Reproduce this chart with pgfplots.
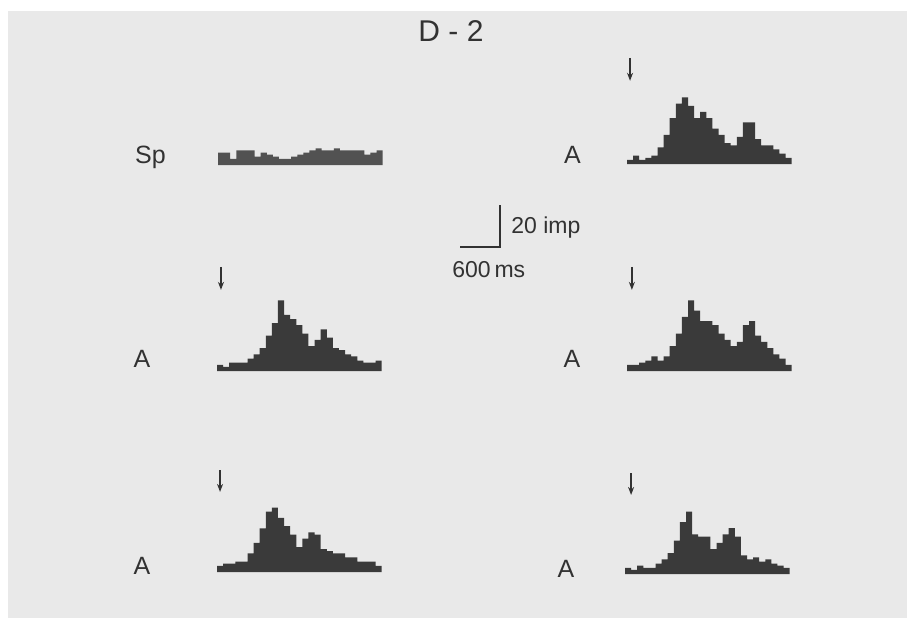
\documentclass[border=0pt]{standalone}
\usepackage{pgfplots}
\pgfplotsset{compat=1.18}
\usepackage{fontspec}
\setmainfont{Liberation Sans}
\usetikzlibrary{arrows.meta}
\definecolor{page}{RGB}{233,233,233}
\definecolor{ink}{RGB}{50,50,50}
\definecolor{bar}{RGB}{58,58,58}
\definecolor{spbar}{RGB}{82,82,82}
\pgfplotsset{
  psth/.style={
    x=0.0305pt, y=1.04pt,
    xmin=0, xmax=2700, ymin=0, ymax=55,
    axis lines=none, clip=false,
    anchor=south west,
  },
}
\tikzset{stim/.style={draw=ink, line width=0.7pt, -{Stealth[length=4pt,width=3pt]}}}
\begin{document}
\begin{tikzpicture}
\fill[white] (0pt,0pt) rectangle (453.5pt,309pt);
\fill[page] (4pt,0pt) rectangle (453.5pt,303.5pt);

% title and labels
\node[ink, font=\fontsize{15}{18}\selectfont] at (225.5pt,293.5pt) {D - 2};
\node[ink, anchor=base, font=\fontsize{12.5}{15}\selectfont] at (75.25pt,227.5pt) {Sp};
\node[ink, anchor=base, font=\fontsize{12.5}{15}\selectfont] at (286.25pt,227.5pt) {A};
\node[ink, anchor=base, font=\fontsize{12.5}{15}\selectfont] at (71pt,125.5pt) {A};
\node[ink, anchor=base, font=\fontsize{12.5}{15}\selectfont] at (286pt,125.5pt) {A};
\node[ink, anchor=base, font=\fontsize{12.5}{15}\selectfont] at (71pt,22pt) {A};
\node[ink, anchor=base, font=\fontsize{12.5}{15}\selectfont] at (283pt,20.5pt) {A};

% scale bar
\draw[ink, line width=0.75pt] (250pt,206.5pt) -- (250pt,185.5pt) -- (230pt,185.5pt);
\node[ink, anchor=base west, inner sep=0pt, font=\fontsize{11.5}{14}\selectfont] at (255.5pt,192.5pt) {20 imp};
\node[ink, anchor=base west, inner sep=0pt, font=\fontsize{11.5}{14}\selectfont] at (226pt,170.5pt) {600\,ms};

% Sp (spontaneous)
\begin{axis}[psth, at={(109pt,226.5pt)}]
\addplot[fill=spbar, draw=none, const plot] table {
x y
0 6
100 6
200 3
300 7
400 7
500 7
600 4
700 6
800 5
900 4
1000 3
1100 3
1200 4
1300 5
1400 6
1500 7
1600 8
1700 7
1800 7
1900 8
2000 7
2100 7
2200 7
2300 7
2400 5
2500 6
2600 7
2700 7
} \closedcycle;
\end{axis}

% top right
\begin{axis}[psth, at={(313.5pt,227pt)}]
\addplot[fill=bar, draw=none, const plot] table {
x y
0 2
100 4
200 2
300 3
400 4
500 8
600 14
700 22
800 29
900 32
1000 28
1100 22
1200 25
1300 22
1400 17
1500 14
1600 10
1700 9
1800 13
1900 20
2000 20
2100 12
2200 9
2300 9
2400 7
2500 5
2600 3
2700 3
} \closedcycle;
\draw[stim] (axis cs:50,51) -- (axis cs:50,40);
\end{axis}

% middle left
\begin{axis}[psth, at={(108.5pt,123.5pt)}]
\addplot[fill=bar, draw=none, const plot] table {
x y
0 3
100 2
200 4
300 4
400 4
500 6
600 8
700 11
800 17
900 23
1000 34
1100 27
1200 25
1300 22
1400 18
1500 12
1600 15
1700 20
1800 16
1900 11
2000 10
2100 8
2200 7
2300 5
2400 4
2500 4
2600 5
2700 5
} \closedcycle;
\draw[stim] (axis cs:65,50) -- (axis cs:65,39);
\end{axis}

% middle right
\begin{axis}[psth, at={(313.5pt,123.5pt)}]
\addplot[fill=bar, draw=none, const plot] table {
x y
0 3
100 3
200 4
300 5
400 7
500 5
600 7
700 12
800 18
900 26
1000 34
1100 29
1200 24
1300 24
1400 22
1500 18
1600 15
1700 12
1800 14
1900 22
2000 24
2100 17
2200 14
2300 11
2400 8
2500 6
2600 3
2700 3
} \closedcycle;
\draw[stim] (axis cs:80,50) -- (axis cs:80,39);
\end{axis}

% bottom left
\begin{axis}[psth, at={(108.5pt,23pt)}]
\addplot[fill=bar, draw=none, const plot] table {
x y
0 3
100 4
200 4
300 5
400 5
500 9
600 14
700 21
800 29
900 31
1000 26
1100 22
1200 18
1300 12
1400 16
1500 19
1600 18
1700 11
1800 10
1900 9
2000 9
2100 7
2200 7
2300 5
2400 5
2500 5
2600 3
2700 3
} \closedcycle;
\draw[stim] (axis cs:50,49) -- (axis cs:50,38.5);
\end{axis}

% bottom right
\begin{axis}[psth, at={(312.5pt,22pt)}]
\addplot[fill=bar, draw=none, const plot] table {
x y
0 3
100 2
200 4
300 3
400 3
500 5
600 7
700 10
800 16
900 25
1000 30
1100 19
1200 18
1300 18
1400 12
1500 15
1600 19
1700 22
1800 18
1900 9
2000 7
2100 8
2200 6
2300 7
2400 5
2500 4
2600 3
2700 3
} \closedcycle;
\draw[stim] (axis cs:100,48.5) -- (axis cs:100,38);
\end{axis}
\end{tikzpicture}
\end{document}
